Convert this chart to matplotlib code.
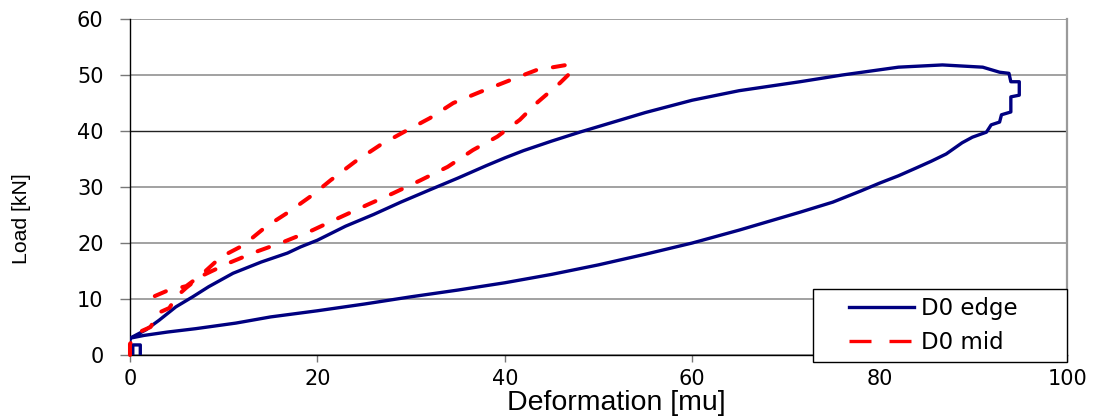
import matplotlib.pyplot as plt
from matplotlib.lines import Line2D
from matplotlib.patches import Rectangle

plt.rcParams['font.family'] = ['Liberation Sans', 'DejaVu Sans']

# D0 edge - loading branch, then unloading branch
edge_x = [1.1, 1.1, 0.3, 0.3, 0.0, 0.0, 1.7, 3.1, 4.9, 6.7, 8.4, 11.0, 14.0, 16.8, 18.2,
          20.0, 23.0, 26.0, 28.9, 32.0, 35.0, 38.0, 40.0, 42.0, 45.0, 48.0, 50.0, 55.0,
          60.0, 65.0, 71.5, 76.0, 82.0, 86.7, 91.0, 92.8, 93.8, 94.0, 94.9, 94.9, 94.0,
          94.0, 93.0, 92.8, 91.9, 91.4, 89.9, 88.8, 87.1, 85.5, 83.9, 82.0, 80.0, 78.0,
          75.0, 71.5, 65.0, 60.0, 55.0, 50.0, 45.0, 40.0, 35.0, 30.0, 25.0, 20.0, 15.0,
          11.3, 7.0, 4.0, 1.5, 0.0]
edge_y = [0.0, 1.8, 1.8, 0.0, 0.0, 3.0, 4.5, 6.2, 8.6, 10.4, 12.2, 14.6, 16.6, 18.2, 19.3,
          20.5, 23.0, 25.1, 27.3, 29.5, 31.6, 33.8, 35.2, 36.5, 38.2, 39.8, 40.8, 43.3,
          45.5, 47.2, 48.8, 50.0, 51.4, 51.8, 51.4, 50.5, 50.3, 48.8, 48.8, 46.4, 46.1,
          43.4, 42.9, 41.6, 41.1, 39.8, 38.9, 37.9, 35.9, 34.6, 33.4, 32.0, 30.7, 29.3,
          27.3, 25.5, 22.3, 20.0, 18.0, 16.1, 14.4, 12.9, 11.6, 10.4, 9.1, 7.9, 6.8,
          5.7, 4.7, 4.1, 3.5, 3.0]

# D0 mid
mid_x = [0.0, 0.0, 1.0, 2.2, 3.0, 4.2, 5.0, 6.0, 7.5, 10.5, 13.4, 16.4, 19.5, 22.3, 25.3,
         28.1, 31.0, 33.9, 36.6, 39.2, 41.6, 43.4, 45.9, 47.0, 47.0, 46.6, 43.4, 40.6,
         37.4, 34.5, 32.0, 29.2, 26.7, 24.0, 21.4, 19.5, 16.9, 14.5, 12.1, 9.7, 7.6,
         6.0, 4.0, 2.2, 1.2]
mid_y = [0.0, 2.0, 4.1, 5.0, 7.5, 8.4, 10.5, 12.0, 14.0, 16.4, 18.4, 20.2, 22.3, 24.5, 26.8,
         28.9, 31.2, 33.6, 36.6, 39.0, 42.0, 45.0, 48.6, 50.4, 51.8, 51.8, 50.9, 49.1,
         47.0, 45.0, 42.3, 39.8, 37.5, 34.5, 31.2, 28.6, 25.5, 22.9, 19.6, 17.5, 14.3,
         12.3, 11.5, 10.2, 9.8]

xticks = [0, 20, 40, 60, 80, 100]
yticks = [0, 10, 20, 30, 40, 50, 60]

fig = plt.figure(figsize=(10.96, 4.18), dpi=100)
ax = fig.add_axes([0.1186, 0.1507, 0.855, 0.8038])

ax.plot(edge_x, edge_y, color='#000080', lw=2.4, zorder=3)
ax.plot(mid_x, mid_y, color='#ff0000', lw=2.9, dashes=(3.0, 4.2), dash_capstyle='round',
        zorder=4, clip_on=False)

ax.set_xlim(0, 100)
ax.set_ylim(0, 60)
ax.set_xticks(xticks)
ax.set_yticks(yticks)
for lab in ax.get_xticklabels() + ax.get_yticklabels():
    lab.set_fontfamily('DejaVu Sans')
ax.tick_params(labelsize=15, direction='out', width=1, color='#777777')
ax.tick_params(axis='x', length=5, pad=5)
ax.tick_params(axis='y', length=7, pad=12)

ax.set_xlabel('Deformation [mu]', fontsize=20.5, va='baseline')
ax.xaxis.set_label_coords(0.519, -0.1632)
ax.set_ylabel('Load [kN]', fontsize=15.3, va='center')
ax.yaxis.set_label_coords(-0.116, 0.405)

ax.yaxis.grid(True, color='#9a9a9a', lw=1.3)
ax.set_axisbelow(True)
for i, gl in enumerate(ax.yaxis.get_gridlines()):
    if i == 4:
        gl.set_color('#222222')
        gl.set_linewidth(1.0)

ax.spines['top'].set_visible(False)
ax.spines['right'].set_color('#9a9a9a')
ax.spines['right'].set_linewidth(1.6)
ax.spines['left'].set_linewidth(1.0)
ax.spines['bottom'].set_linewidth(1.0)

# legend box, hanging a little below the x axis as in the original
box = Rectangle((0.7289, -0.0208), 0.2711, 0.2173, transform=ax.transAxes,
                facecolor='white', edgecolor='black', lw=1.0, clip_on=False, zorder=6)
ax.add_patch(box)
handles = [Line2D([], [], color='#000080', lw=2.4),
           Line2D([], [], color='#ff0000', lw=2.4, dashes=(6.6, 5.4))]
leg = ax.legend(handles, ['D0 edge', 'D0 mid'], loc='center left',
                bbox_to_anchor=(0.7673, 0.0875), frameon=False,
                prop={'family': 'DejaVu Sans', 'size': 16.5},
                handlelength=2.85, handletextpad=0.3, borderpad=0, labelspacing=0.5,
                borderaxespad=0)
leg.set_zorder(7)

fig.savefig('out.png', dpi=100)
